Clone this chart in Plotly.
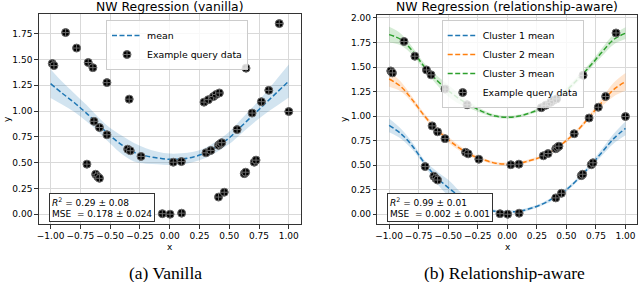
import plotly.graph_objects as go

# ---------------- data ----------------
# query data: three clusters
c1_x = [-0.695, -0.622, -0.605, -0.59, -0.062, 0.003, 0.10, 0.41, 0.458, 0.626, 0.638, 0.71, 0.725, 1.0]
c1_y = [0.485, 0.387, 0.364, 0.348, 0.005, 0.0, 0.01, 0.166, 0.213, 0.393, 0.407, 0.504, 0.524, 0.995]
c2_x = [-0.986, -0.972, -0.636, -0.59, -0.527, -0.353, -0.331, -0.241, 0.03, 0.098, 0.305, 0.345,
        0.41, 0.423, 0.437, 0.566, 0.692, 0.77, 0.832]
c2_y = [1.46, 1.44, 0.90, 0.84, 0.77, 0.63, 0.615, 0.56, 0.504, 0.51, 0.595, 0.618,
        0.667, 0.68, 0.693, 0.82, 0.98, 1.09, 1.20]
c3_x = [-0.874, -0.782, -0.684, -0.645, -0.527, -0.34, 0.288, 0.325, 0.367, 0.39, 0.417, 0.641, 0.92]
c3_y = [1.76, 1.61, 1.47, 1.42, 1.275, 1.115, 1.086, 1.11, 1.14, 1.16, 1.175, 1.415, 1.847]

grid_x = [-1.0, -0.9, -0.8, -0.7, -0.6, -0.5, -0.4, -0.3, -0.2, -0.1, 0.0,
          0.1, 0.2, 0.3, 0.4, 0.5, 0.6, 0.7, 0.8, 0.9, 1.0]

vanilla_mean = [1.265, 1.17, 1.08, 0.98, 0.87, 0.76, 0.67, 0.60, 0.565, 0.545, 0.532,
                0.535, 0.555, 0.595, 0.66, 0.74, 0.85, 0.96, 1.07, 1.18, 1.29]
vanilla_band = [0.14, 0.11, 0.09, 0.08, 0.07, 0.075, 0.09, 0.09, 0.075, 0.06, 0.055,
                0.055, 0.05, 0.05, 0.055, 0.06, 0.07, 0.08, 0.10, 0.13, 0.16]

c1_mean = [0.905, 0.82, 0.69, 0.52, 0.38, 0.27, 0.18, 0.105, 0.055, 0.03, 0.025,
           0.03, 0.06, 0.105, 0.17, 0.25, 0.36, 0.49, 0.63, 0.77, 0.875]
c1_band = [0.07, 0.05, 0.035, 0.03, 0.06, 0.08, 0.05, 0.03, 0.02, 0.015, 0.015,
           0.015, 0.015, 0.015, 0.02, 0.02, 0.02, 0.025, 0.035, 0.05, 0.07]
c2_mean = [1.378, 1.30, 1.16, 1.00, 0.865, 0.76, 0.67, 0.60, 0.555, 0.52, 0.512,
           0.52, 0.55, 0.59, 0.66, 0.75, 0.86, 1.00, 1.14, 1.27, 1.35]
c2_band = [0.08, 0.05, 0.03, 0.025, 0.025, 0.03, 0.025, 0.02, 0.015, 0.015, 0.015,
           0.015, 0.015, 0.015, 0.015, 0.02, 0.02, 0.025, 0.04, 0.07, 0.09]
c3_mean = [1.83, 1.78, 1.66, 1.50, 1.37, 1.26, 1.17, 1.10, 1.04, 1.0, 0.987,
           1.0, 1.035, 1.085, 1.16, 1.26, 1.38, 1.51, 1.65, 1.78, 1.845]
c3_band = [0.08, 0.06, 0.04, 0.035, 0.045, 0.06, 0.05, 0.03, 0.02, 0.015, 0.015,
           0.015, 0.015, 0.02, 0.02, 0.025, 0.03, 0.03, 0.04, 0.05, 0.06]

x_ticks = [-1.0, -0.75, -0.5, -0.25, 0.0, 0.25, 0.5, 0.75, 1.0]
x_tick_text = ["\u22121.00", "\u22120.75", "\u22120.50", "\u22120.25", "0.00", "0.25", "0.50", "0.75", "1.00"]
y_ticks_left = [0.0, 0.25, 0.5, 0.75, 1.0, 1.25, 1.5, 1.75]
y_ticks_right = [0.0, 0.25, 0.5, 0.75, 1.0, 1.25, 1.5, 1.75, 2.0]

BLUE, ORANGE, GREEN = "#1f77b4", "#ff7f0e", "#2ca02c"
FILL = {BLUE: "rgba(31,119,180,0.2)", ORANGE: "rgba(255,127,14,0.2)", GREEN: "rgba(44,160,44,0.2)"}

all_x = c1_x + c2_x + c3_x
all_y = c1_y + c2_y + c3_y

fig = go.Figure()


def add_band(mean, band, color, name, xa, ya, legend):
    lo = [m - b for m, b in zip(mean, band)]
    hi = [m + b for m, b in zip(mean, band)]
    fig.add_trace(go.Scatter(x=grid_x, y=lo, mode="lines", line=dict(width=0, color=color, shape="spline"),
                             showlegend=False, hoverinfo="skip", xaxis=xa, yaxis=ya))
    fig.add_trace(go.Scatter(x=grid_x, y=hi, mode="lines", line=dict(width=0, color=color, shape="spline"),
                             fill="tonexty", fillcolor=FILL[color], showlegend=False, hoverinfo="skip",
                             xaxis=xa, yaxis=ya))
    fig.add_trace(go.Scatter(x=grid_x, y=mean, mode="lines", name=name,
                             line=dict(color=color, width=1.5, dash="5px,2.5px", shape="spline"),
                             xaxis=xa, yaxis=ya, legend=legend))


def add_points(xa, ya, legend):
    fig.add_trace(go.Scatter(x=all_x, y=all_y, mode="markers", name="Example query data",
                             marker=dict(symbol="circle-cross", size=8, color="black",
                                         line=dict(color="#6a6a6a", width=1)),
                             xaxis=xa, yaxis=ya, legend=legend))


add_band(vanilla_mean, vanilla_band, BLUE, "mean", "x", "y", "legend")
add_points("x", "y", "legend")

add_band(c1_mean, c1_band, BLUE, "Cluster 1 mean", "x2", "y2", "legend2")
add_band(c2_mean, c2_band, ORANGE, "Cluster 2 mean", "x2", "y2", "legend2")
add_band(c3_mean, c3_band, GREEN, "Cluster 3 mean", "x2", "y2", "legend2")
add_points("x2", "y2", "legend2")

TICKFONT = dict(family="DejaVu Sans", size=9, color="black")
axis_common = dict(showgrid=True, gridcolor="#d9d9d9", gridwidth=0.8, zeroline=False,
                   showline=True, linecolor="#333333", linewidth=1, mirror=True,
                   ticks="outside", ticklen=3.5, tickwidth=0.8, tickcolor="#333333",
                   tickfont=TICKFONT, tickangle=0, automargin=False)

legend_common = dict(bgcolor="rgba(255,255,255,0.8)", bordercolor="#cccccc", borderwidth=1,
                     font=dict(family="DejaVu Sans", size=9.4, color="black"),
                     xanchor="left", yanchor="top", tracegroupgap=0, itemwidth=30,
                     traceorder="normal")

fig.update_layout(
    width=640, height=282,
    margin=dict(l=0, r=0, t=0, b=0, autoexpand=False),
    paper_bgcolor="white", plot_bgcolor="white",
    xaxis=dict(domain=[38.7 / 640, 300.7 / 640], range=[-1.1, 1.1], tickvals=x_ticks,
               ticktext=x_tick_text, anchor="y", **axis_common),
    yaxis=dict(domain=[1 - 224 / 282, 1 - 14 / 282], range=[-0.095, 1.94], tickvals=y_ticks_left,
               ticktext=[f"{v:.2f}" for v in y_ticks_left], anchor="x", **axis_common),
    xaxis2=dict(domain=[377.3 / 640, 637.3 / 640], range=[-1.1, 1.1], tickvals=x_ticks,
                ticktext=x_tick_text, anchor="y2", **axis_common),
    yaxis2=dict(domain=[1 - 224 / 282, 1 - 15 / 282], range=[-0.1, 2.03], tickvals=y_ticks_right,
                ticktext=[f"{v:.2f}" for v in y_ticks_right], anchor="x2", **axis_common),
    legend=dict(x=106 / 640, y=1 - 20 / 282, **legend_common),
    legend2=dict(x=441.7 / 640, y=1 - 20 / 282, **legend_common),
)

ann_font = dict(family="DejaVu Sans", size=9, color="black")
title_font = dict(family="DejaVu Sans", size=12.4, color="black")
cap_font = dict(family="Liberation Serif", size=17.5, color="black")
annotations = [
    dict(text="NW Regression (vanilla)", x=170 / 640, y=1 - 7 / 282, font=title_font),
    dict(text="NW Regression (relationship-aware)", x=507 / 640, y=1 - 7 / 282, font=title_font),
    dict(text="x", x=170 / 640, y=1 - 247 / 282, font=ann_font),
    dict(text="x", x=508 / 640, y=1 - 247 / 282, font=ann_font),
    dict(text="y", x=7 / 640, y=1 - 119 / 282, font=ann_font, textangle=-90),
    dict(text="y", x=344 / 640, y=1 - 119 / 282, font=ann_font, textangle=-90),
    dict(text="(a) Vanilla", x=165.5 / 640, y=1 - 272.7 / 282, font=cap_font),
    dict(text="(b) Relationship-aware", x=504 / 640, y=1 - 272.7 / 282, font=cap_font),
    dict(text="<i>R</i><sup>2</sup> = 0.29 \u00b1 0.08<br>MSE  = 0.178 \u00b1 0.024",
         x=49 / 640, y=1 - 222 / 282, xanchor="left", yanchor="bottom", align="left",
         font=ann_font, bordercolor="#333333", borderwidth=1, borderpad=2, bgcolor="white"),
    dict(text="<i>R</i><sup>2</sup> = 0.99 \u00b1 0.01<br>MSE  = 0.002 \u00b1 0.001",
         x=387 / 640, y=1 - 222 / 282, xanchor="left", yanchor="bottom", align="left",
         font=ann_font, bordercolor="#333333", borderwidth=1, borderpad=2, bgcolor="white"),
]
for a in annotations:
    a.setdefault("xref", "paper")
    a.setdefault("yref", "paper")
    a.setdefault("showarrow", False)
    a.setdefault("xanchor", "center")
    a.setdefault("yanchor", "middle")
    fig.add_annotation(**a)

fig.write_html("out.html", config={"displayModeBar": False},
               post_script="document.body.style.margin='0';document.body.style.padding='0';")
